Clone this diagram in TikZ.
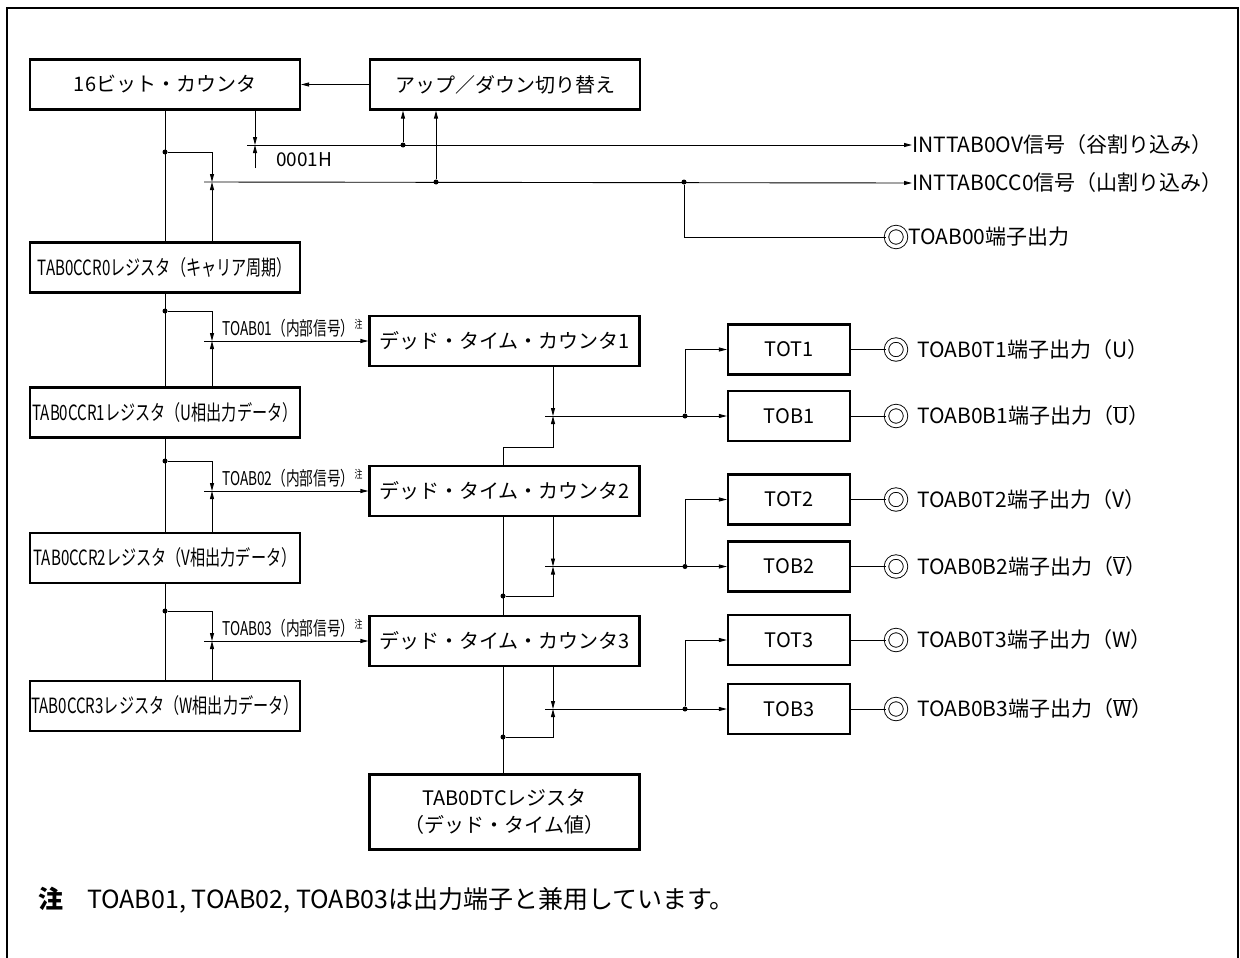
\documentclass[tikz,border=0pt]{standalone}
\usepackage{fontspec}
\setmainfont{Noto Sans CJK JP}
\newfontfamily\condfont{Noto Sans CJK JP}[FakeStretch=0.72]
\usetikzlibrary{arrows.meta}
\newcommand{\notemark}{\raisebox{7pt}{\fontsize{11}{11}\selectfont 注}}
\begin{document}
\begin{tikzpicture}[
        x=1pt, y=-1pt,
        box/.style={draw, line width=2.2pt, minimum width=270pt, minimum height=50pt, inner sep=0pt, font=\fontsize{20}{27}\selectfont},
        reg/.style={box, font=\condfont\fontsize{21}{24}\selectfont},
        outbox/.style={box, minimum width=122pt, font=\fontsize{20}{24}\selectfont},
        wire/.style={line width=0.9pt},
        sig/.style={wire, -{Triangle[length=8pt,width=4pt]}},
        dot/.style={circle, fill, inner sep=0pt, minimum size=5pt},
        pinring/.style={circle, draw, line width=0.9pt, double, double distance=3.5pt, minimum size=19pt, inner sep=0pt},
        lab/.style={font=\fontsize{21}{24}\selectfont, inner sep=0pt},
        tag/.style={font=\condfont\fontsize{19}{22}\selectfont, inner sep=0pt}
    ]

        \useasboundingbox (0,0) rectangle (1240,958);

        % outer frame, open at the bottom
        \draw[line width=2pt] (7,958) -- (7,8) -- (1238,8) -- (1238,958);

        % counter and up/down control
        \node[box] (cnt) at (165,84.5) {16ビット・カウンタ};
        \node[box] (ud) at (505,84.5) {アップ／ダウン切り替え};
        \draw[sig] (ud.west) -- (cnt.east);

        % compare registers
        \node[reg] (ccr0) at (165,267.5) {TAB0CCR0レジスタ（キャリア周期）};
        \node[reg] (ccr1) at (165,412.5) {TAB0CCR1レジスタ（U相出力データ）};
        \node[reg] (ccr2) at (165,558) {TAB0CCR2レジスタ（V相出力データ）};
        \node[reg] (ccr3) at (165,706) {TAB0CCR3レジスタ（W相出力データ）};

        % dead time counters
        \foreach \i/\y in {1/341, 2/491, 3/641}
            \node[box] (dt\i) at (504.5,\y) {デッド・タイム・カウンタ{\i}};
        \node[box, minimum height=75pt, align=center] (dtc) at (504.5,812) {TAB0DTCレジスタ\\（デッド・タイム値）};

        % 0001H compare -> INTTAB0OV
        \coordinate (ov) at (255,145);
        \coordinate (ovin) at (255,168);
        \draw[sig] (cnt.south -| ov) -- (ov);
        \draw[sig] (ovin) -- (ov);
        \node[lab, anchor=west, font=\fontsize{19}{22}\selectfont] (one) at (276,160) {0001H};
        \node[lab, anchor=west] (intov) at (912,145) {INTTAB0OV信号（谷割り込み）};
        \draw[sig] ([xshift=-8pt]ov) -- (intov.west);
        \node[dot] (j1) at (403,145) {};
        \draw[sig] (j1) -- (j1 |- ud.south);

        % CCR0 compare -> INTTAB0CC0, TOAB00
        \coordinate (cc) at (212,182);
        \draw[wire] (cnt.south) -- (ccr0.north);
        \node[dot] (j2) at (165,152) {};
        \draw[sig] (j2) -| (cc);
        \draw[sig] (cc |- ccr0.north) -- (cc);
        \node[lab, anchor=west] (intcc) at (912,183) {INTTAB0CC0信号（山割り込み）};
        \draw[sig] ([xshift=-8pt]cc) -- (intcc.west);
        \node[dot] (j3) at (436,182) {};
        \draw[sig] (j3) -- (j3 |- ud.south);
        \node[dot] (j4) at (684,182) {};
        \node[pinring] (p0) at (896,237) {};
        \node[lab, anchor=west] (t0) at (908,237) {TOAB00端子出力};
        \draw[wire] (j4) |- (p0);

        % CCRn compare -> dead time counter n
        \foreach \i/\prev/\y in {1/0/341, 2/1/491, 3/2/641} {
            \coordinate (cmp\i) at (212,\y);
            \draw[wire] (ccr\prev.south) -- (ccr\i.north);
            \node[dot] (jr\i) at (165,{\y-30}) {};
            \draw[sig] (jr\i) -| (cmp\i);
            \draw[sig] (cmp\i |- ccr\i.north) -- (cmp\i);
            \draw[sig] ([xshift=-8pt]cmp\i) -- (dt\i.west);
            \node[tag, anchor=base west] (sg\i) at (222,{\y-6}) {TOAB0{\i}（内部信号）\notemark};
        }

        % output stages
        \foreach \i/\yt/\yb/\ph in {1/349.5/416/U, 2/499.5/566.5/V, 3/640/709/W} {
            \node[outbox] (tot\i) at (789,\yt) {TOT\i};
            \node[outbox] (tob\i) at (789,\yb) {TOB\i};
            \coordinate (dc\i) at (553,\yb);
            \draw[sig] (dt\i.south -| dc\i) -- (dc\i);
            \draw[sig] ([xshift=-8pt]dc\i) -- (tob\i.west);
            \node[dot] (jo\i) at (685,\yb) {};
            \draw[sig] (jo\i) |- (tot\i.west);
            \node[pinring] (pt\i) at (896,\yt) {};
            \node[pinring] (pb\i) at (896,\yb) {};
            \draw[wire] (tot\i.east) -- (pt\i);
            \draw[wire] (tob\i.east) -- (pb\i);
            \node[lab, anchor=west] at (917,\yt) {TOAB0T{\i}端子出力（{\ph}）};
            \node[lab, anchor=west] at (917,\yb) {TOAB0B{\i}端子出力（$\overline{\mbox{\ph}}$）};
        }

        % dead time value bus
        \coordinate (bus) at (503,0);
        \coordinate (f1) at (553,447);
        \draw[sig] (dt2.north -| bus) |- (f1) -- (dc1);
        \draw[wire] (dt2.south -| bus) -- (dt3.north -| bus);
        \node[dot] (jb2) at (503,596) {};
        \draw[sig] (jb2) -| (dc2);
        \draw[wire] (dt3.south -| bus) -- (dtc.north -| bus);
        \node[dot] (jb3) at (503,737) {};
        \draw[sig] (jb3) -| (dc3);

        % note
        \node[lab, anchor=west, font=\fontsize{25}{28}\selectfont] (note) at (38,900) {\textbf{注}\hspace{24pt}TOAB01, TOAB02, TOAB03は出力端子と兼用しています。};

    \end{tikzpicture}
\end{document}
